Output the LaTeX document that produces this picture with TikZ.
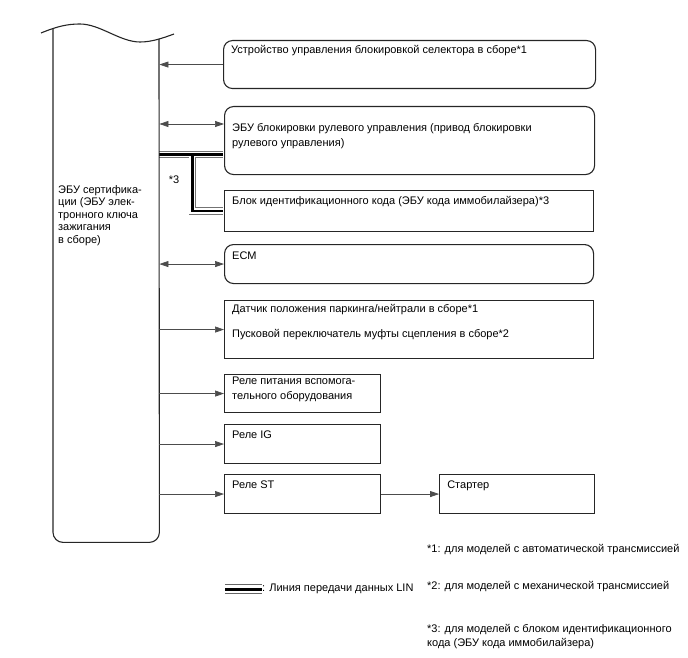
\documentclass[tikz,border=0pt]{standalone}
\usepackage{fontspec}
\setmainfont{Liberation Sans}
\usetikzlibrary{arrows.meta,positioning,calc}

\tikzset{
  unit/.style={draw=black!85, line width=1.1pt, anchor=north west, inner sep=0pt},
  roundunit/.style={unit, rounded corners=9pt},
  txt/.style={anchor=base west, inner sep=0pt, align=left, font=\fontsize{11}{15.5}\selectfont},
  ecutxt/.style={txt, font=\fontsize{11}{12.6}\selectfont},
  eculine/.style={draw=black!85, line width=1.1pt},
  wire/.style={draw=black!70, line width=0.7pt},
  >={Triangle[length=9pt,width=6pt]}
}

\begin{document}
\begin{tikzpicture}[x=1pt, y=-1pt]
    \useasboundingbox (0,0) rectangle (688,658);
    % ECU
    \node [inner sep=0pt, anchor=north west, minimum width=106pt, minimum height=512pt] (ecu) at (53,30) {};
    % base of a multi-line node = baseline of its last line
    \node [ecutxt] (ecuname) at (58,243.4) {ЭБУ сертифика-\\ции (ЭБУ элек-\\тронного ключа\\зажигания\\в сборе)};

    % Units
    \node [roundunit, minimum width=372pt, minimum height=48pt] (sel) at (223,40) {};
    \node [roundunit, minimum width=370pt, minimum height=68pt] (slock) at (224,106) {};
    \node [unit, minimum width=369pt, minimum height=41pt] (immo) at (224,190) {};
    \node [roundunit, minimum width=369pt, minimum height=39pt] (ecm) at (224,244) {};
    \node [unit, minimum width=369pt, minimum height=58pt] (pnp) at (224,300) {};
    \node [unit, minimum width=156pt, minimum height=38pt] (acc) at (224,374) {};
    \node [unit, minimum width=156pt, minimum height=39pt] (ig) at (224,424) {};
    \node [unit, minimum width=156pt, minimum height=39pt] (st) at (224,474) {};
    \node [unit, minimum width=155pt, minimum height=39pt, anchor=west, right=58pt of st] (starter) {};

    % Texts
    \node [txt] (seltxt) at ($(sel.north west)+(8,14)$) {Устройство управления блокировкой селектора в сборе*1};
    \node [txt] (slocktxt) at ($(slock.north west)+(8,40.5)$) {ЭБУ блокировки рулевого управления (привод блокировки\\рулевого управления)};
    \node [txt] (immotxt) at ($(immo.north west)+(8,14)$) {Блок идентификационного кода (ЭБУ кода иммобилайзера)*3};
    \node [txt] (ecmtxt) at ($(ecm.north west)+(8,15)$) {ECM};
    \node [txt] (pnptxt) at ($(pnp.north west)+(8,37)$) {Датчик положения паркинга/нейтрали в сборе*1\\[9.5pt]Пусковой переключатель муфты сцепления в сборе*2};
    \node [txt] (acctxt) at ($(acc.north west)+(8,25.5)$) {Реле питания вспомога-\\тельного оборудования};
    \node [txt] (igtxt) at ($(ig.north west)+(8,14)$) {Реле IG};
    \node [txt] (sttxt) at ($(st.north west)+(8,14)$) {Реле ST};
    \node [txt] (startertxt) at ($(starter.north west)+(8,14)$) {Стартер};
    \node [txt, anchor=center] (star3) at (174,180) {*3};

    % LIN bus
    \coordinate (lin2) at ($(slock.north west)+(0,48.5)$);
    \coordinate (linj) at ($(ecu.east |- lin2)+(33,0)$);
    \foreach \w/\c in {7.5pt/black!55, 5.9pt/white, 2.2pt/black} {
      \draw [line width=\w, draw=\c, shorten >=0.6pt] (ecu.east |- lin2) -- (lin2);
      \draw [line width=\w, draw=\c, shorten >=0.6pt] (linj) |- (immo.west);
    }

    % ECU outline
    \draw [eculine, rounded corners=10pt] (53,29) -- (ecu.south west) -- (ecu.south east) -- (159,39);
    \draw [eculine] (41,33) .. controls (58,26) and (68,24) .. (80,24) .. controls (100,24) and (120,42) .. (140,42) .. controls (152,42) and (163,38) .. (174,34);

    % Connections
    \coordinate (slockin) at ($(slock.north west)+(0,18)$);
    \draw [wire, <-] (ecu.east |- sel.west) -- (sel.west);
    \draw [wire, <->] (ecu.east |- slockin) -- (slockin);
    \draw [wire, <->] (ecu.east |- ecm.west) -- (ecm.west);
    \draw [wire, ->] (ecu.east |- pnp.west) -- (pnp.west);
    \draw [wire, ->] (ecu.east |- acc.west) -- (acc.west);
    \draw [wire, ->] (ecu.east |- ig.west) -- (ig.west);
    \draw [wire, ->] (ecu.east |- st.west) -- (st.west);
    \draw [wire, ->] (st) -- (starter);

    % Notes
    \node [txt] (note1) at (427,552) {*1: для моделей с автоматической трансмиссией};
    \node [txt] (note2) at (427,589) {*2: для моделей с механической трансмиссией};
    \node [txt, font=\fontsize{11}{14}\selectfont] (note3) at (427,646) {*3: для моделей с блоком идентификационного\\кода (ЭБУ кода иммобилайзера)};
    \node [txt, anchor=west] (legtxt) at (262,589) {: Линия передачи данных LIN};
    \coordinate (legA) at ($(legtxt.west)+(-37,0)$);
    \foreach \w/\c in {10pt/black!60, 8.4pt/white, 3pt/black} {
      \draw [line width=\w, draw=\c] (legA) -- (legtxt.west);
    }
\end{tikzpicture}
\end{document}
